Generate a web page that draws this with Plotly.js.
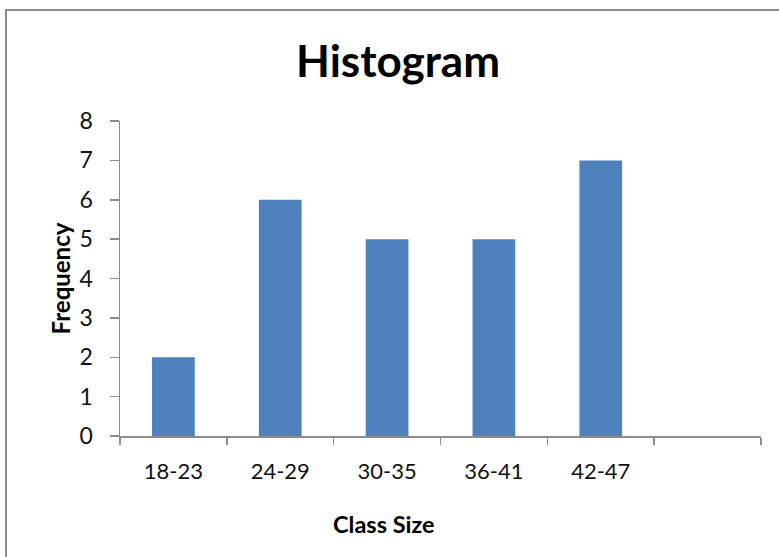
<!DOCTYPE html>
<html>
<head>
<meta charset="utf-8">
<script src="https://cdn.plot.ly/plotly-3.0.1.min.js"></script>
<style>
  html, body { margin: 0; padding: 0; background: #ffffff; overflow: hidden; }
  #wrap { position: relative; width: 779px; height: 557px; }
  #chart { position: absolute; left: 0; top: 0; width: 779px; height: 557px; }
  #frame { position: absolute; left: 5px; top: 9px; width: 800px; height: 600px;
           border: 2px solid #8c8c8c; pointer-events: none; }
</style>
</head>
<body>
<div id="wrap">
  <div id="chart"></div>
  <div id="frame"></div>
</div>
<script>
// Data
const categories = ['18-23', '24-29', '30-35', '36-41', '42-47', ' '];
const frequency = [2, 6, 5, 5, 7, null];
const yTickVals = [0, 1, 2, 3, 4, 5, 6, 7, 8];

const FONT = 'Lato, "Open Sans", "Liberation Sans", sans-serif';
const AXIS_GRAY = '#8c8c8c';

const trace = {
  type: 'bar',
  x: categories,
  y: frequency,
  marker: { color: '#4f81bd', line: { width: 0 } },
  width: 0.4,
  hoverinfo: 'x+y'
};

const layout = {
  width: 779,
  height: 557,
  margin: { l: 120, r: 18, t: 121, b: 121 },
  paper_bgcolor: 'rgba(0,0,0,0)',
  plot_bgcolor: '#ffffff',
  showlegend: false,
  font: { family: FONT, color: '#111111' },
  title: {
    text: 'Histogram',
    font: { family: FONT, size: 44, weight: 'bold', color: '#000000' },
    x: 0.511, xanchor: 'center', xref: 'container',
    y: 0.889, yanchor: 'middle', yref: 'container'
  },
  xaxis: {
    type: 'category',
    categoryorder: 'array',
    categoryarray: categories,
    range: [-0.5, 5.5],
    showgrid: false,
    zeroline: false,
    showline: true,
    linecolor: AXIS_GRAY,
    linewidth: 1.5,
    ticks: 'outside',
    tickson: 'boundaries',
    ticklen: 7,
    tickwidth: 1.5,
    tickcolor: AXIS_GRAY,
    ticklabelstandoff: 15,
    tickfont: { family: FONT, size: 22, color: '#111111' },
    fixedrange: true
  },
  yaxis: {
    range: [0, 8],
    tickvals: yTickVals,
    showgrid: false,
    zeroline: false,
    showline: true,
    linecolor: AXIS_GRAY,
    linewidth: 1.5,
    ticks: 'outside',
    ticklen: 9,
    tickwidth: 1.5,
    tickcolor: AXIS_GRAY,
    ticklabelstandoff: 12,
    tickfont: { family: FONT, size: 23, color: '#111111' },
    title: {
      text: 'Frequency',
      font: { family: FONT, size: 24, weight: 'bold', color: '#000000' },
      standoff: 2
    },
    fixedrange: true
  },
  annotations: [{
    text: 'Class Size',
    xref: 'paper', yref: 'paper',
    x: (384 - 120) / 641, y: -(524 - 436) / 315,
    xanchor: 'center', yanchor: 'middle',
    showarrow: false,
    font: { family: FONT, size: 23.5, weight: 'bold', color: '#000000' }
  }]
};

Plotly.newPlot('chart', [trace], layout, { displayModeBar: false, staticPlot: true });
</script>
</body>
</html>
